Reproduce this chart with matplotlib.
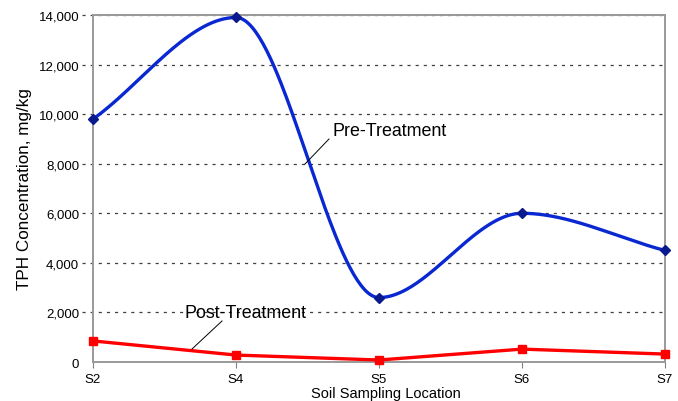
import numpy as np
import matplotlib
matplotlib.use("Agg")
import matplotlib.pyplot as plt

categories = ["S2", "S4", "S5", "S6", "S7"]
pre_treatment = [9800, 13900, 2600, 6000, 4500]
post_treatment = [850, 280, 80, 520, 320]
yticks = [0, 2000, 4000, 6000, 8000, 10000, 12000, 14000]

plt.rcParams['font.family'] = ['Liberation Sans', 'DejaVu Sans']

def smooth(xs, ys, n=80):
    xs = np.asarray(xs, float); ys = np.asarray(ys, float)
    h = np.diff(xs); d = np.diff(ys) / h
    m = np.zeros_like(ys)
    for i in range(1, len(ys) - 1):
        if d[i-1] * d[i] > 0:
            w1 = 2*h[i] + h[i-1]; w2 = h[i] + 2*h[i-1]
            m[i] = (w1 + w2) / (w1/d[i-1] + w2/d[i])
    m[0] = d[0]; m[-1] = d[-1]
    ox, oy = [], []
    for i in range(len(xs) - 1):
        t = np.linspace(0, 1, n)
        h00 = 2*t**3 - 3*t**2 + 1; h10 = t**3 - 2*t**2 + t
        h01 = -2*t**3 + 3*t**2; h11 = t**3 - t**2
        ox.extend(xs[i] + t*h[i])
        oy.extend(h00*ys[i] + h10*h[i]*m[i] + h01*ys[i+1] + h11*h[i]*m[i+1])
    return np.array(ox), np.array(oy)

fig = plt.figure(figsize=(6.78, 4.02), dpi=100)
ax = fig.add_axes([93/678, 1-363/402, (665-93)/678, (363-16)/402])

x = np.arange(len(categories))
sx, sy = smooth(x, pre_treatment)
ax.plot(sx, sy, color='#0a28d2', lw=2.4, zorder=3, clip_on=False)
ax.plot(x, pre_treatment, linestyle='none', marker='D', ms=5.5, color='#0a1a8c', zorder=4, clip_on=False)
ax.plot(x, post_treatment, color='#ff0000', lw=2.4, marker='s', ms=6, zorder=3, clip_on=False)

ax.set_xlim(0, 4)
ax.set_ylim(0, 14000)
ax.set_yticks(yticks)
ax.set_yticklabels([f"{v:,}" for v in yticks], fontsize=9.5)
ax.set_xticks(x)
ax.set_xticklabels(categories, fontsize=9.5)
ax.tick_params(axis='y', length=0, pad=10)
ax.tick_params(axis='x', length=4, color='#808080', pad=4)

for v in yticks[1:]:
    ax.plot([-0.02, 1], [v, v], transform=ax.get_yaxis_transform(), color='#404040',
            lw=0.9, ls=(0, (2.5, 4)), clip_on=False, zorder=1)

for s in ax.spines.values():
    s.set_color('#999999'); s.set_linewidth(1.4)

ax.set_ylabel("TPH Concentration, mg/kg", fontsize=12.3)
ax.yaxis.set_label_coords(-0.107, 0.5)
ax.set_xlabel("Soil Sampling Location", fontsize=10.5, labelpad=1)
ax.xaxis.set_label_coords(0.5 + 7/572, -0.07)

def px2data(px, py):
    return ((px - 93) / 143.0, (363 - py) / 347.0 * 14000)

# Pre-Treatment label and leader
tx, ty = px2data(332, 131)
ax.text(tx, ty, "Pre-Treatment", fontsize=12.9, ha='left', va='center')
a, b = px2data(329, 140); c, d = px2data(305, 165)
ax.plot([a, c], [b, d], color='black', lw=0.7, zorder=5)

# Post-Treatment label and leader
tx, ty = px2data(185, 314)
ax.text(tx, ty, "Post-Treatment", fontsize=12.9, ha='left', va='center')
a, b = px2data(222, 322); c, d = px2data(192, 350)
ax.plot([a, c], [b, d], color='black', lw=0.7, zorder=5)

fig.savefig("out.png", dpi=100)
